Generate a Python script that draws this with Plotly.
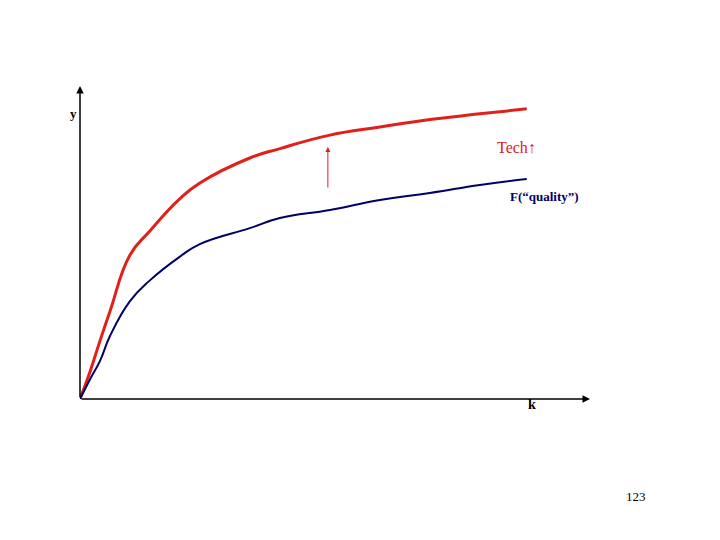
import plotly.graph_objects as go

k_vals = [0, 0.2, 0.39, 0.59, 0.98, 1.37, 1.96, 2.35, 3.33, 3.92, 4.90, 5.88, 6.86, 7.84, 8.76]
y_red = [0, 0.89, 1.85, 2.81, 4.60, 5.37, 6.40, 6.90, 7.70, 8.00, 8.43, 8.69, 8.93, 9.11, 9.27]
y_blue = [0, 0.64, 1.21, 2.02, 3.13, 3.79, 4.55, 4.95, 5.46, 5.78, 6.04, 6.36, 6.58, 6.84, 7.03]

fig = go.Figure()
fig.add_trace(go.Scatter(x=k_vals, y=y_red, mode="lines", line=dict(color="#e0201b", width=3, shape="spline", smoothing=1.3)))
fig.add_trace(go.Scatter(x=k_vals, y=y_blue, mode="lines", line=dict(color="#000066", width=2, shape="spline", smoothing=1.3)))

F = "Liberation Serif"
def px(x): return (x - 80) / 510
def py(y): return (398 - y) / 313

ann = [
    dict(x=0, y=10, ax=0, ay=313, xref="x", yref="y", showarrow=True,
         arrowhead=2, arrowsize=1, arrowwidth=1.5, arrowcolor="black", text=""),
    dict(x=10, y=0, ax=-510, ay=0, xref="x", yref="y", showarrow=True,
         arrowhead=2, arrowsize=1, arrowwidth=1.5, arrowcolor="black", text=""),
    dict(x=4.86, y=8.05, ax=0, ay=42, xref="x", yref="y", showarrow=True,
         arrowhead=2, arrowsize=1, arrowwidth=1, arrowcolor="#e0201b", text=""),
    dict(x=px(68), y=py(103), xref="paper", yref="paper", text="<b>y</b>", showarrow=False, font=dict(family=F, size=13, color="black")),
    dict(x=px(538), y=py(136), xref="paper", yref="paper", text="Tech↑", showarrow=False, font=dict(family=F, size=16, color="#e0201b")),
    dict(x=px(581), y=py(186), xref="paper", yref="paper", text="<b>F(“quality”)</b>", showarrow=False, font=dict(family=F, size=13, color="#000066")),
    dict(x=px(538), y=py(413), xref="paper", yref="paper", text="<b>k</b>", showarrow=False, font=dict(family=F, size=14, color="black")),
    dict(x=px(648), y=py(505), xref="paper", yref="paper", text="123", showarrow=False, font=dict(family=F, size=13, color="black")),
]
fig.update_layout(
    width=720, height=540, margin=dict(l=72, r=138, t=78, b=149),
    plot_bgcolor="white", paper_bgcolor="white", showlegend=False,
    xaxis=dict(range=[0, 10], visible=False),
    yaxis=dict(range=[0, 10], visible=False),
    annotations=ann,
)
fig.write_html("out.html")
